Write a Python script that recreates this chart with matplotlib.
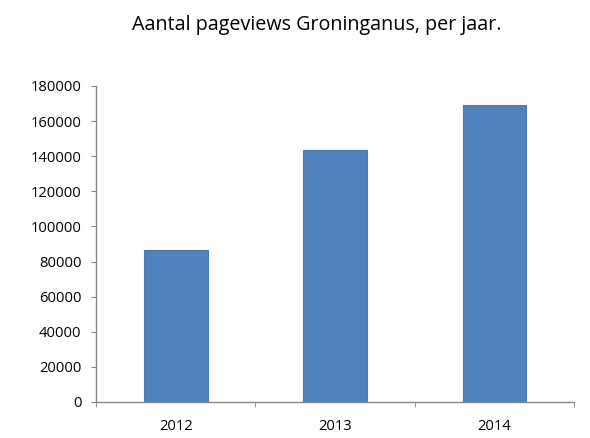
import matplotlib.pyplot as plt
import numpy as np

plt.rcParams['font.family'] = ['Open Sans', 'DejaVu Sans']

# data
jaren = ['2012', '2013', '2014']
pageviews = [86600, 143500, 169200]
y_ticks = [0, 20000, 40000, 60000, 80000, 100000, 120000, 140000, 160000, 180000]

fig = plt.figure(figsize=(5.9, 4.38), dpi=100)
ax = fig.add_axes([0.1627, 0.0822, 0.8103, 0.7215])

x = np.arange(len(jaren))
ax.bar(x, pageviews, width=0.4, color='#4F81BD', edgecolor='#4A7AB5', linewidth=0.8)

as_kleur = '#868686'
ax.set_xlim(-0.5, 2.5)
ax.set_ylim(0, 180000)
ax.set_yticks(y_ticks)
ax.set_yticklabels([str(t) for t in y_ticks], fontsize=10.6)

# categorielabels zonder tickstreepjes, streepjes op de grenzen
ax.set_xticks(x)
ax.set_xticklabels(jaren, fontsize=10.6)
ax.tick_params(axis='x', length=0, pad=12)
ax.set_xticks([-0.5, 0.5, 1.5, 2.5], minor=True)
ax.tick_params(axis='x', which='minor', length=3.6, color=as_kleur, direction='out')
ax.tick_params(axis='y', length=3.6, color=as_kleur, direction='out', pad=7)

for kant in ['top', 'right']:
    ax.spines[kant].set_visible(False)
for kant in ['left', 'bottom']:
    ax.spines[kant].set_color(as_kleur)
    ax.spines[kant].set_linewidth(1)

fig.suptitle('Aantal pageviews Groninganus, per jaar.', fontsize=14.2, x=0.537, y=0.965)

fig.savefig('out.png', dpi=100)
